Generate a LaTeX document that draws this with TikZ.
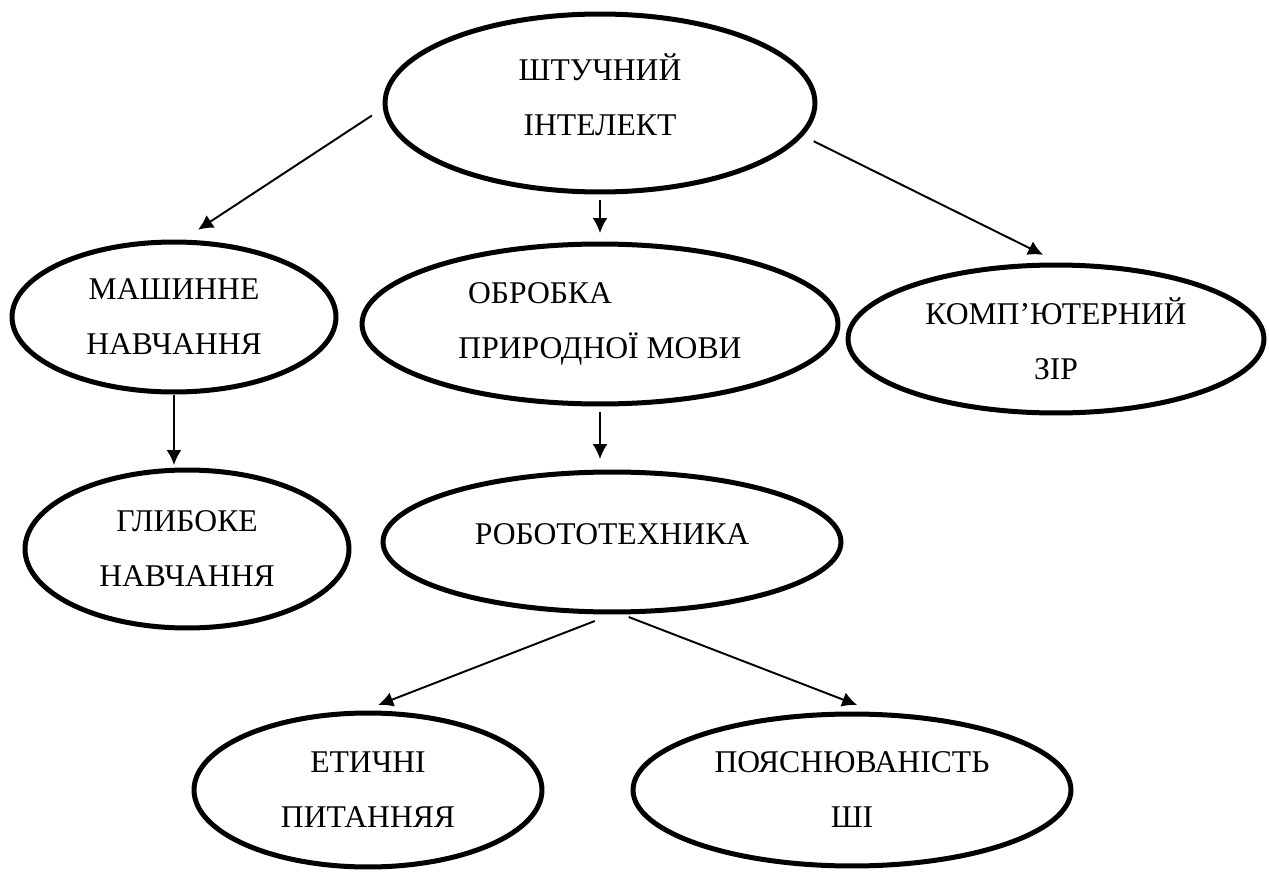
\documentclass[tikz,border=0pt]{standalone}
\usepackage{fontspec}
\setmainfont{Liberation Serif}
\usepackage{tikz}
\usetikzlibrary{shapes.geometric,arrows.meta}

\begin{document}
\begin{tikzpicture}[
		%Global config
		x=0.02cm, y=-0.02cm,
		>={Latex[length=3mm,width=3mm]},
		color = black,
		%Styles
		Bubble/.style={
			ellipse,
			draw,
			line width=2.85pt,
			inner sep=0pt,
			outer sep=0pt,
			align=center,
			font=\fontsize{18}{31.3}\selectfont,
		},
		Link/.style={
			->,
			line width=1.1pt,
		}
		]

		\useasboundingbox (0,0) rectangle (1269,872);

		\node[Bubble, minimum width=8.6cm, minimum height=3.56cm, text depth=0.32cm] (ai) at (600,103) {ШТУЧНИЙ\\ІНТЕЛЕКТ};
		\node[Bubble, minimum width=6.48cm, minimum height=3cm] (ml) at (174,317) {МАШИННЕ\\НАВЧАННЯ};
		\node[Bubble, minimum width=9.52cm, minimum height=3.2cm] (nlp) at (600,324) {ОБРОБКА\hspace*{2.4cm}\\ПРИРОДНОЇ МОВИ};
		\node[Bubble, minimum width=8.32cm, minimum height=2.96cm] (cv) at (1056,339) {КОМП’ЮТЕРНИЙ\\ЗІР};
		\node[Bubble, minimum width=6.48cm, minimum height=3.16cm] (dl) at (187,549) {ГЛИБОКЕ\\НАВЧАННЯ};
		\node[Bubble, minimum width=9.16cm, minimum height=2.8cm, text depth=0.32cm] (rob) at (612,542) {РОБОТОТЕХНИКА};
		\node[Bubble, minimum width=6.96cm, minimum height=3.08cm] (eth) at (368,790) {ЕТИЧНІ\\ПИТАННЯЯ};
		\node[Bubble, minimum width=8.76cm, minimum height=3.04cm] (xai) at (852,790) {ПОЯСНЮВАНІСТЬ\\ШІ};

		\draw[Link, shorten <=0.32cm, shorten >=0.45cm] (ai.181.7) -- (ml.86);
		\draw[Link, shorten <=0.16cm, shorten >=0.22cm] (ai.south) -- (nlp.north);
		\draw[Link, shorten <=0.29cm, shorten >=0.46cm] (ai.-9.6) -- (cv.84.9);
		\draw[Link, shorten <=0.06cm, shorten >=0.1cm] (ml.south) -- (ml.south |- dl.north);
		\draw[Link, shorten <=0.16cm, shorten >=0.26cm] (nlp.south) -- (nlp.south |- rob.north);
		\draw[Link, shorten <=0.5cm, shorten >=0.45cm] (rob.275.2) -- (eth.98.1);
		\draw[Link, shorten <=0.28cm, shorten >=0.54cm] (rob.273.3) -- (xai.68.2);
	\end{tikzpicture}
\end{document}
